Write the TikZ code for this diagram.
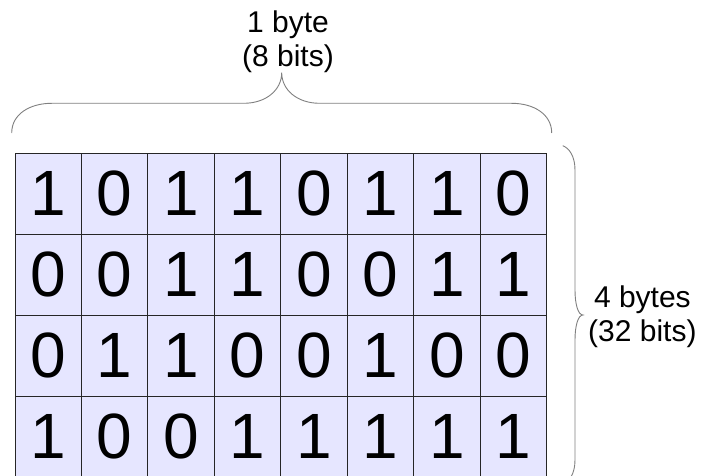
\documentclass[tikz,border=0pt]{standalone}
\usepackage{fontspec}
\setmainfont{Liberation Sans}
\definecolor{cellfill}{RGB}{230,230,255}
\definecolor{bracegray}{RGB}{128,128,128}
\begin{document}
\begin{tikzpicture}[x=1pt,y=-1pt,
  cell/.style={draw=black!85, line width=0.8pt, fill=cellfill,
    minimum width=66.44pt, minimum height=81pt, inner sep=0pt,
    font=\fontsize{64}{75}\selectfont},
  bracepath/.style={draw=bracegray, line width=0.9pt},
  label/.style={align=center, inner sep=0pt, font=\fontsize{30}{34}\selectfont}]
\clip (0,0) rectangle (705,476);
\fill[white] (0,0) rectangle (705,476);
\foreach \r/\bits in {1/{1,0,1,1,0,1,1,0},2/{0,0,1,1,0,0,1,1},3/{0,1,1,0,0,1,0,0},4/{1,0,0,1,1,1,1,1}}{
  \foreach \b [count=\c] in \bits {
    \node[cell] (cell-\r-\c) at ({15+66.44*(\c-0.5)},{153+81*(\r-0.5)}) {\b};
  }
}
% top brace
\coordinate (tl) at (11.7,133);
\coordinate (tr) at (551.7,133);
\coordinate (tt) at (281.7,72.7);
\draw[bracepath] (tl) .. controls (11.7,114) and (30,103.3) .. (51.7,103.3)
  -- (243.7,103.3) .. controls (266,103.3) and (281.7,90) .. (tt)
  .. controls (281.7,90) and (297.4,103.3) .. (319.7,103.3)
  -- (511.7,103.3) .. controls (533.4,103.3) and (551.7,114) .. (tr);
\node[label] (toplabel) at (288,42) {1 byte\\(8 bits)};
% right brace
\coordinate (rt) at (562.7,145.7);
\coordinate (rb) at (562.7,484.3);
\coordinate (rm) at (583,315);
\draw[bracepath] (rt) .. controls (569,148) and (575,156) .. (575,170)
  -- (575,290) .. controls (575,304) and (578,315) .. (rm)
  .. controls (578,315) and (575,326) .. (575,340)
  -- (575,460) .. controls (575,474) and (569,482) .. (rb);
\node[label, anchor=west] (rightlabel) at (588,316.5) {4 bytes\\(32 bits)};
\end{tikzpicture}
\end{document}
